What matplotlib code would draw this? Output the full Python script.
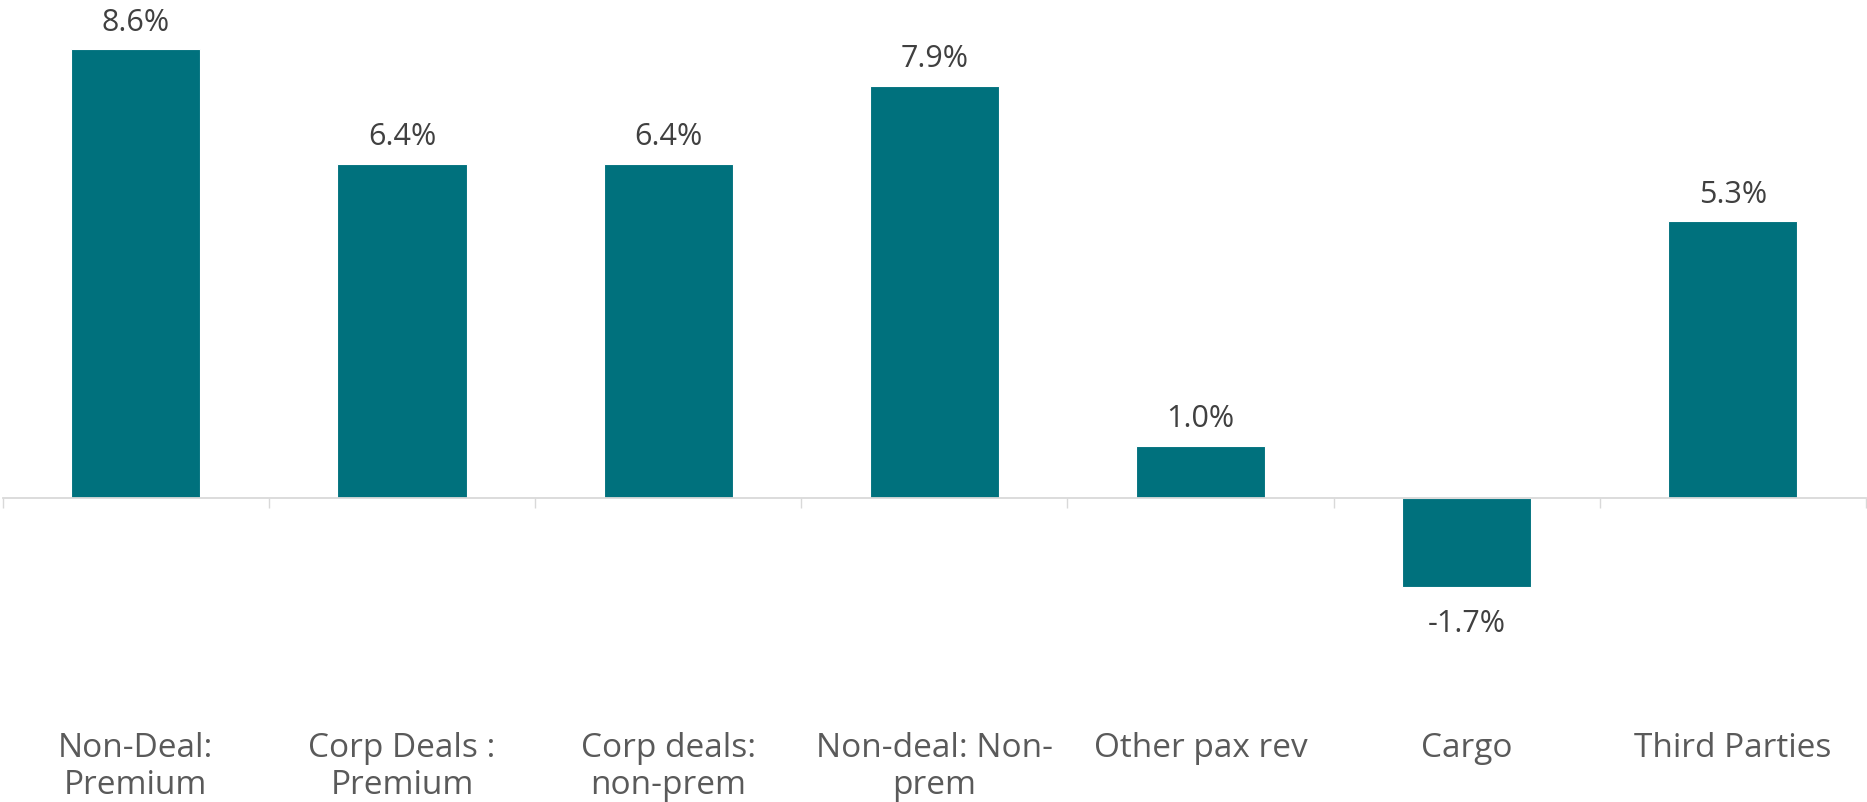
import numpy as np
import matplotlib.pyplot as plt

categories = ["Non-Deal:\nPremium", "Corp Deals :\nPremium", "Corp deals:\nnon-prem",
              "Non-deal: Non-\nprem", "Other pax rev", "Cargo", "Third Parties"]
values = [8.6, 6.4, 6.4, 7.9, 1.0, -1.7, 5.3]

bar_color = "#00717D"
grid_grey = "#D9D9D9"

plt.rcParams['font.family'] = ['Open Sans', 'DejaVu Sans']

fig = plt.figure(figsize=(18.67, 8.03), dpi=100)
ax = fig.add_axes([0.00145, 0.0, 0.998, 1.0])

x = np.arange(len(categories))
bars = ax.bar(x, values, width=0.485, color=bar_color, edgecolor="white", linewidth=0.8, zorder=2)

ax.set_xlim(-0.5, len(categories) - 0.5)
ax.set_ylim(-5.82, 9.56)

for s in ["top", "right", "left"]:
    ax.spines[s].set_visible(False)
ax.spines["bottom"].set_position(("data", 0))
ax.spines["bottom"].set_color(grid_grey)
ax.spines["bottom"].set_linewidth(1.3)
ax.spines["bottom"].set_zorder(3)
ax.set_yticks([])

ax.set_xticks(x, categories)
ax.set_xticks(np.arange(-0.5, len(categories), 1), minor=True)
ax.tick_params(axis="x", which="major", length=0, pad=168, labelsize=24, labelcolor="#5a5a5a")
ax.tick_params(axis="x", which="minor", length=7.5, width=1.0, color=grid_grey, direction="out")
for lab in ax.get_xticklabels():
    lab.set_linespacing(1.15)

for b, v in zip(bars, values):
    if v >= 0:
        ax.annotate(f"{v:.1f}%", (b.get_x() + b.get_width() / 2, v), xytext=(0, 9),
                    textcoords="offset points", ha="center", va="bottom",
                    fontsize=22, color="#404040")
    else:
        ax.annotate(f"{v:.1f}%", (b.get_x() + b.get_width() / 2, v), xytext=(0, -15),
                    textcoords="offset points", ha="center", va="top",
                    fontsize=22, color="#404040")

fig.savefig("out.png", dpi=100)
